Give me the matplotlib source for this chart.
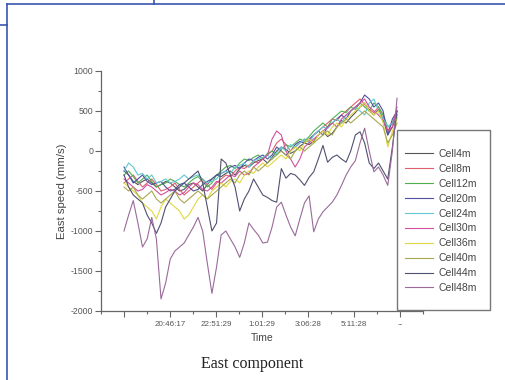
import numpy as np
import matplotlib
matplotlib.use("Agg")
import matplotlib.pyplot as plt
from matplotlib.lines import Line2D
from matplotlib.patches import Rectangle
from matplotlib.ticker import MultipleLocator, FixedLocator

plt.rcParams["axes.unicode_minus"] = False

# ---------------- data ----------------
labels = ["Cell4m", "Cell8m", "Cell12m", "Cell20m", "Cell24m",
          "Cell30m", "Cell36m", "Cell40m", "Cell44m", "Cell48m"]
colors = ["#555555", "#e06070", "#50b050", "#5050a0", "#60c8d0",
          "#d050a0", "#e0d840", "#a8a850", "#505070", "#9a6a9a"]

cell4m = [-250,-300,-380,-420,-380,-350,-400,-450,-420,-380,
          -400,-450,-500,-480,-420,-400,-450,-500,-420,-350,
          -300,-320,-280,-250,-300,-220,-180,-200,-150,-120,
          -100,-150,-80,0,50,20,-30,0,60,100,
          80,120,200,250,180,220,300,380,350,420,
          480,550,600,500,450,520,400,200,300,450]
cell8m = [-400,-350,-300,-380,-450,-400,-350,-420,-500,-480,
          -450,-400,-480,-550,-500,-450,-400,-350,-420,-480,
          -400,-350,-300,-320,-250,-200,-220,-180,-120,-150,
          -100,-50,0,100,150,80,0,50,100,150,
          120,200,250,300,350,400,380,450,500,550,
          600,650,580,520,480,550,450,250,350,500]
cell12m = [-300,-250,-320,-400,-350,-300,-380,-450,-420,-400,
           -350,-380,-420,-450,-400,-350,-320,-380,-450,-400,
           -300,-250,-200,-180,-220,-150,-100,-120,-80,-50,
           -100,-30,0,-50,20,80,50,100,150,120,
           180,250,300,350,300,400,450,500,480,550,
           520,600,550,500,600,550,450,300,350,420]
cell20m = [-200,-300,-400,-350,-300,-380,-420,-400,-380,-450,
           -500,-480,-420,-400,-450,-500,-480,-420,-380,-350,
           -300,-280,-250,-200,-180,-220,-150,-100,-120,-80,
           -50,-100,-50,50,0,-50,0,80,120,100,
           150,200,250,200,300,350,400,450,400,500,
           550,600,700,650,550,600,500,200,400,500]
cell24m = [-250,-150,-200,-300,-280,-350,-300,-400,-380,-350,
           -400,-380,-350,-300,-350,-320,-300,-350,-400,-380,
           -350,-280,-250,-280,-200,-180,-150,-200,-120,-100,
           -80,-50,-100,-20,50,0,80,50,100,150,
           100,200,250,300,280,350,400,350,450,500,
           550,500,450,600,650,500,400,300,350,450]
cell30m = [-350,-400,-450,-500,-480,-420,-450,-500,-550,-520,
           -480,-500,-550,-520,-450,-400,-420,-480,-500,-450,
           -380,-400,-350,-300,-320,-250,-300,-280,-200,-150,
           -100,-50,150,250,200,0,-100,-200,-100,50,
           100,150,200,250,300,350,300,400,450,500,
           550,600,650,550,500,450,380,250,300,550]
cell36m = [-400,-450,-500,-550,-650,-700,-750,-850,-700,-600,
           -650,-700,-750,-850,-800,-700,-600,-550,-600,-500,
           -450,-400,-450,-380,-350,-400,-300,-250,-280,-200,
           -150,-200,-150,-100,-50,-100,0,50,0,100,
           150,100,200,250,200,300,350,300,400,450,
           500,550,600,500,450,500,350,50,250,400]
cell40m = [-450,-500,-450,-550,-600,-550,-500,-600,-650,-600,
           -550,-500,-600,-650,-600,-550,-500,-550,-600,-550,
           -500,-450,-400,-350,-400,-300,-250,-300,-200,-250,
           -200,-150,-100,-50,0,-50,-100,0,50,0,
           50,100,150,200,250,200,300,350,400,350,
           400,450,500,450,400,350,300,100,200,350]
cell44m = [-300,-450,-550,-600,-650,-800,-900,-1030,-900,-700,
           -600,-500,-450,-400,-350,-300,-250,-400,-700,-1000,
           -900,-100,-150,-300,-450,-750,-600,-500,-350,-450,
           -550,-580,-620,-640,-220,-340,-280,-300,-360,-430,
           -330,-260,-100,70,-140,-80,-50,-100,-140,0,
           200,240,100,-150,-220,-150,-250,-350,50,500]
cell48m = [-1000,-800,-620,-900,-1200,-1100,-830,-1100,-1850,-1650,
           -1350,-1250,-1200,-1150,-1050,-950,-830,-1000,-1400,-1780,
           -1450,-1050,-1000,-1100,-1200,-1330,-1150,-900,-980,-1050,
           -1150,-1140,-950,-700,-640,-800,-950,-1060,-850,-650,
           -560,-1010,-850,-760,-700,-640,-550,-430,-300,-200,
           -120,100,285,0,-260,-200,-300,-430,0,660]

series = [cell4m, cell8m, cell12m, cell20m, cell24m,
          cell30m, cell36m, cell40m, cell44m, cell48m]

tick_pos = [1, 3, 5, 7, 9, 11, 13]
tick_labels = ["", "20:46:17", "22:51:29", "1:01:29", "3:06:28", "5:11:28", "--"]

# ---------------- figure ----------------
W, H = 505, 380
fig = plt.figure(figsize=(W / 100, H / 100), dpi=100)
fig.patch.set_facecolor("white")

def fx(x):
    return x / W

def fy(y):
    return 1 - y / H

ax_l, ax_r, ax_t, ax_b = 101, 423, 71, 311
ax = fig.add_axes([fx(ax_l), fy(ax_b), fx(ax_r) - fx(ax_l), fy(ax_t) - fy(ax_b)])

n = len(cell4m)
t = np.linspace(1.0, 12.87, n)
handles = []
for vals, lab, col in zip(series, labels, colors):
    h, = ax.plot(t, vals, color=col, lw=0.8, label=lab)
    handles.append(h)

ax.set_xlim(0, (ax_r - ax_l) / 23.0)
ax.set_ylim(-2000, 1000)

gray = "#666666"
for s in ["top", "right"]:
    ax.spines[s].set_visible(False)
for s in ["left", "bottom"]:
    ax.spines[s].set_color(gray)
    ax.spines[s].set_linewidth(0.9)

ax.yaxis.set_major_locator(MultipleLocator(500))
ax.yaxis.set_minor_locator(MultipleLocator(250))
ax.xaxis.set_major_locator(FixedLocator(tick_pos))
ax.xaxis.set_minor_locator(MultipleLocator(1))
ax.set_xticklabels(tick_labels)
ax.tick_params(axis="both", which="major", direction="out", length=4, width=0.8,
               color=gray, labelcolor="#555555")
ax.tick_params(axis="both", which="minor", direction="out", length=2.5, width=0.8,
               color=gray)
ax.tick_params(axis="y", labelsize=6.3, pad=1.5)
ax.tick_params(axis="x", labelsize=5.8, pad=3)
for lbl in ax.get_xticklabels() + ax.get_yticklabels():
    lbl.set_family("Liberation Sans")

ax.set_xlabel("Time", fontsize=7.5, family="Liberation Sans", color="#444444", labelpad=4)
ax.set_ylabel("East speed (mm/s)", fontsize=8.2, family="Liberation Sans", color="#444444",
              labelpad=3)

fig.text(fx(252), fy(364), "East component", ha="center", va="center",
         fontsize=11.5, family="Liberation Serif", color="#222222")

# legend box and legend
fig.add_artist(Rectangle((fx(397), fy(310)), fx(490) - fx(397), fy(130) - fy(310),
                         transform=fig.transFigure, facecolor="white",
                         edgecolor="#777777", lw=1.0, zorder=5))
leg = fig.legend(handles=handles, loc="upper left",
                 bbox_to_anchor=(fx(405), fy(149)), bbox_transform=fig.transFigure,
                 frameon=False, borderpad=0, borderaxespad=0,
                 handlelength=2.7, handletextpad=0.5, labelspacing=0.47,
                 prop={"family": "Liberation Sans", "size": 7.5})
leg.set_zorder(6)
for txt in leg.get_texts():
    txt.set_color("#444444")

# blue page frame lines
blue = "#3a55b0"
for (x0, y0, x1, y1) in [(7, 4, W, 4), (154, 0, 154, 4), (7, 4, 7, H), (0, 25, 7, 25)]:
    fig.add_artist(Line2D([fx(x0), fx(x1)], [fy(y0), fy(y1)], transform=fig.transFigure,
                          color=blue, lw=1.2))

fig.savefig("out.png", dpi=100, facecolor="white")
